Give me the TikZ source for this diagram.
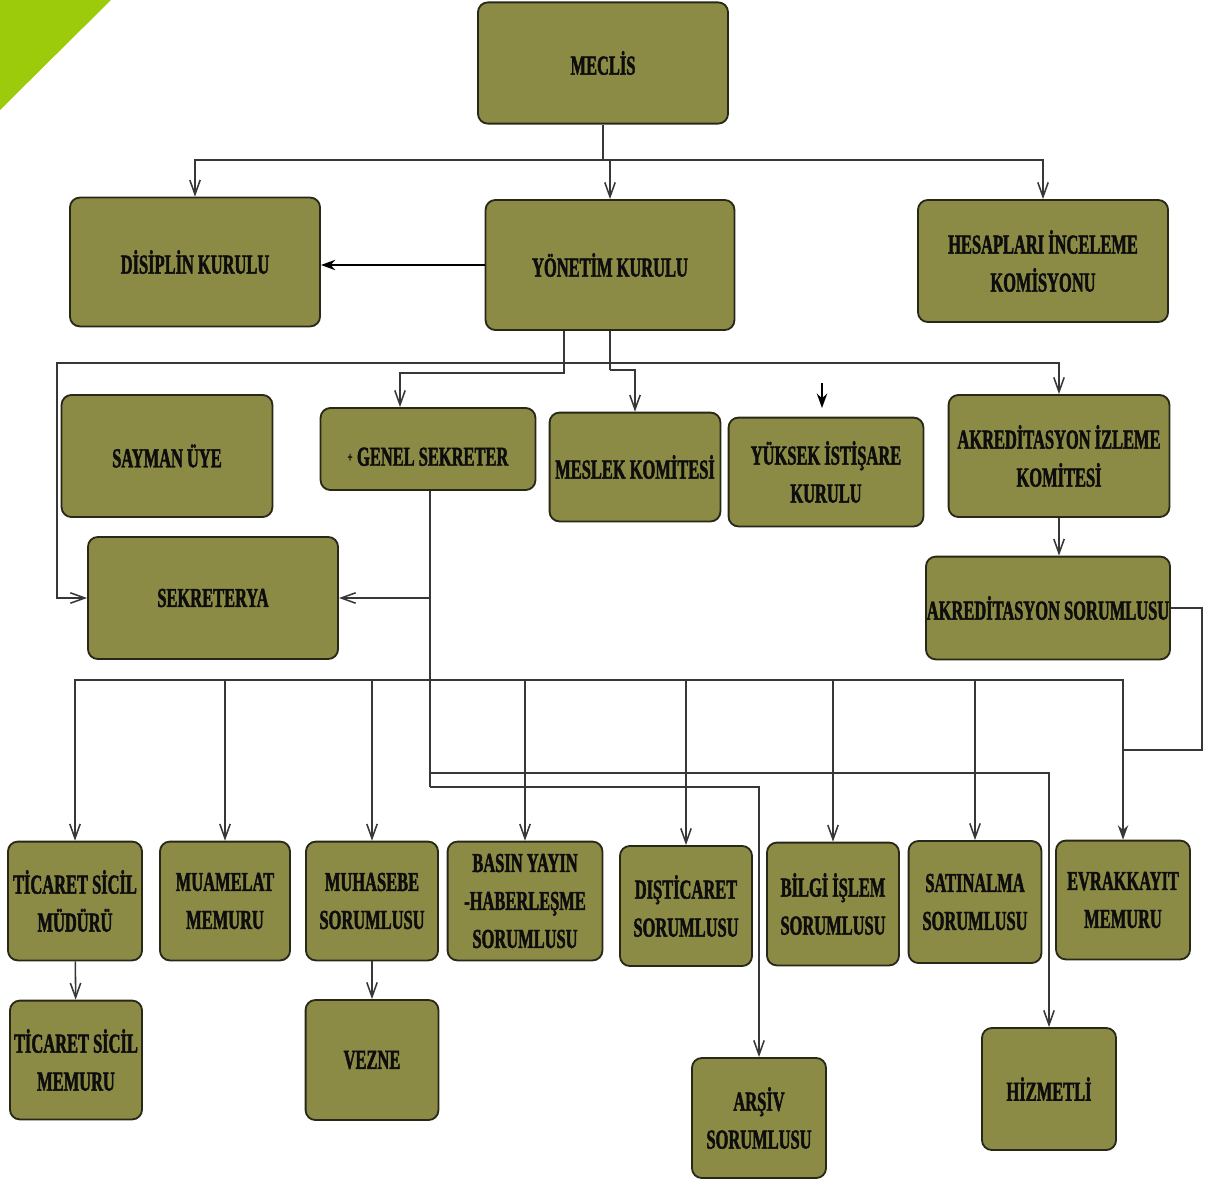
\documentclass[tikz,border=0pt]{standalone}
\usepackage{fontspec}
\newfontfamily\kutufont[FakeStretch=0.6, FakeBold=1.6]{Liberation Serif}
\usepackage{tikz}
\usetikzlibrary{arrows.meta}
\definecolor{zeytin}{RGB}{140,139,70}
\definecolor{kenar}{RGB}{40,40,25}
\definecolor{cizgi}{RGB}{55,55,55}
\definecolor{kose}{RGB}{155,203,10}
\tikzstyle{kutu} = [rectangle, rounded corners=7pt, draw=kenar, line width=1.3pt, fill=zeytin, inner sep=0pt, align=center, text=black!95, font=\kutufont\bfseries\fontsize{19.5}{27}\selectfont]
\tikzstyle{hat} = [draw=cizgi, line width=1.1pt]
\tikzstyle{arrow} = [draw=cizgi, line width=1.1pt, ->, >={Straight Barb[length=3.6mm,width=2.6mm]}]
\tikzstyle{dolu} = [draw=black, line width=1.1pt, ->, >={Stealth[length=3.6mm,width=2.6mm]}]

\begin{document}
\begin{tikzpicture}[x=0.025cm, y=-0.025cm]
\useasboundingbox (0,0) rectangle (1207,1182);

\fill [kose] (0,0) -- (111,0) -- (0,110) -- cycle;

\node (meclis) [kutu, minimum width=6.25cm, minimum height=3.03cm] at (603,63) {MECLİS};

\node (disiplin) [kutu, minimum width=6.25cm, minimum height=3.22cm] at (195,262) {DİSİPLİN KURULU};
\node (yonetim) [kutu, minimum width=6.22cm, minimum height=3.25cm] at (610,265) {YÖNETİM KURULU};
\node (hesap) [kutu, minimum width=6.25cm, minimum height=3.05cm] at (1043,261) {HESAPLARI İNCELEME\\KOMİSYONU};

\node (sayman) [kutu, minimum width=5.27cm, minimum height=3.05cm] at (167,456) {SAYMAN ÜYE};
\node (genel) [kutu, minimum width=5.37cm, minimum height=2.05cm, text height=24pt] at (428,449) {{\fontsize{10}{10}\selectfont\raisebox{0.6ex}{+}}\,GENEL SEKRETER};
\node (meslek) [kutu, minimum width=4.27cm, minimum height=2.72cm] at (635,467) {MESLEK KOMİTESİ};
\node (yuksek) [kutu, minimum width=4.87cm, minimum height=2.72cm] at (826,472) {YÜKSEK İSTİŞARE\\KURULU};
\node (akrizl) [kutu, minimum width=5.52cm, minimum height=3.05cm] at (1059,456) {AKREDİTASYON İZLEME\\KOMİTESİ};

\node (sekreterya) [kutu, minimum width=6.25cm, minimum height=3.05cm] at (213,598) {SEKRETERYA};
\node (akrsor) [kutu, minimum width=6.1cm, minimum height=2.57cm] at (1048,608) {AKREDİTASYON SORUMLUSU};

\node (ticmud) [kutu, minimum width=3.35cm, minimum height=2.97cm] at (75,901) {TİCARET SİCİL\\MÜDÜRÜ};
\node (muamelat) [kutu, minimum width=3.25cm, minimum height=2.97cm] at (225,901) {MUAMELAT\\MEMURU};
\node (muhasebe) [kutu, minimum width=3.3cm, minimum height=2.97cm] at (372,901) {MUHASEBE\\SORUMLUSU};
\node (basin) [kutu, minimum width=3.87cm, minimum height=2.97cm] at (525,901) {BASIN YAYIN\\-HABERLEŞME\\SORUMLUSU};
\node (dis) [kutu, minimum width=3.3cm, minimum height=3cm] at (686,906) {DIŞTİCARET\\SORUMLUSU};
\node (bilgi) [kutu, minimum width=3.3cm, minimum height=3.07cm] at (833,904) {BİLGİ İŞLEM\\SORUMLUSU};
\node (satin) [kutu, minimum width=3.32cm, minimum height=3.05cm] at (975,902) {SATINALMA\\SORUMLUSU};
\node (evrak) [kutu, minimum width=3.35cm, minimum height=2.97cm] at (1123,900) {EVRAKKAYIT\\MEMURU};

\node (ticmem) [kutu, minimum width=3.3cm, minimum height=2.97cm] at (76,1060) {TİCARET SİCİL\\MEMURU};
\node (vezne) [kutu, minimum width=3.32cm, minimum height=3cm] at (372,1060) {VEZNE};
\node (arsiv) [kutu, minimum width=3.35cm, minimum height=3cm] at (759,1118) {ARŞİV\\SORUMLUSU};
\node (hizmetli) [kutu, minimum width=3.35cm, minimum height=3.05cm] at (1049,1089) {HİZMETLİ};

% meclis dallari
\coordinate (m1) at (603,160);
\draw [hat] (meclis) -- (m1);
\draw [arrow] (m1) -| (disiplin);
\draw [arrow] (m1) -| (yonetim);
\draw [arrow] (m1) -| (hesap);

\draw [dolu] (yonetim.west) -- (disiplin.east |- yonetim.west);

% yonetim kurulu alti
\coordinate (y1) at (564,373);
\coordinate (g1) at (400,373);
\draw [arrow] (yonetim.south -| y1) -- (y1) -- (g1) -- (g1 |- genel.north);

\coordinate (y2) at (610,363);
\coordinate (y3) at (610,370);
\coordinate (s1) at (57,363);
\draw [hat] (yonetim.south) -- (y3);
\draw [arrow] (y2) -- (s1) |- (sekreterya);
\draw [arrow] (y2) -| (akrizl);
\draw [arrow] (y3) -| (meslek);

\coordinate (yk1) at (822,383);
\coordinate (yk2) at (822,408);
\draw [dolu] (yk1) -- (yk2);

\draw [arrow] (akrizl) -- (akrizl.south |- akrsor.north);

% genel sekreter alti
\coordinate (g2) at (430,787);
\coordinate (g3) at (430,773);
\coordinate (b1) at (430,680);
\draw [hat] (genel.south -| g2) -- (g2);
\draw [arrow] (g2 |- sekreterya.east) -- (sekreterya.east);

\draw [arrow] (b1) -| (ticmud);
\draw [arrow] (b1) -| (muamelat);
\draw [arrow] (b1) -| (muhasebe);
\draw [arrow] (b1) -| (basin);
\draw [arrow] (b1) -| (dis);
\draw [arrow] (b1) -| (bilgi);
\draw [arrow] (b1) -| (satin);
\draw [dolu, draw=cizgi] (b1) -| (evrak);

\coordinate (a1) at (1202,750);
\draw [hat] (akrsor.east) -| (a1) -- (a1 -| evrak);

\draw [arrow] (g3) -| (hizmetli);
\draw [arrow] (g2) -| (arsiv);

\draw [arrow] (ticmud) -- (ticmem);
\draw [arrow] (muhasebe) -- (vezne);

\end{tikzpicture}
\end{document}
